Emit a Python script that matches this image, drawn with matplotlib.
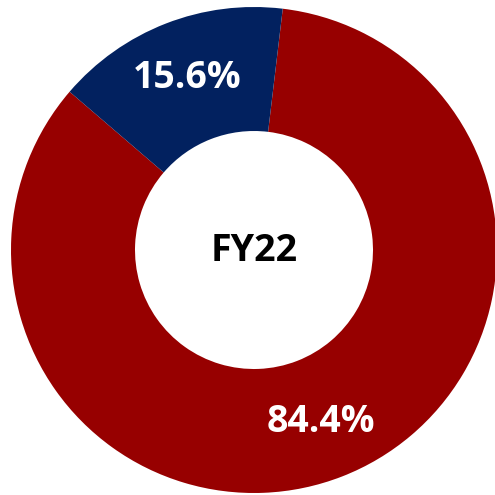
import matplotlib.pyplot as plt

# share of FY22 (red first, clockwise from near the top)
labels = ['Other', 'Segment']
values = [84.4, 15.6]
colors = ['#970000', '#02215F']
center_text = 'FY22'

fig = plt.figure(figsize=(4.95, 4.95), dpi=100)
ax = fig.add_axes([0, 0, 1, 1])

wedges, texts, autotexts = ax.pie(
    values, colors=colors, startangle=83.2, counterclock=False,
    center=(254, 245), radius=243, autopct='%.1f%%', pctdistance=0.76,
    wedgeprops=dict(width=124, edgecolor='none'),
    textprops=dict(color='white', fontsize=27, fontweight='bold', family='Open Sans'),
)

ax.text(254, 244, center_text, ha='center', va='center',
        fontsize=27, fontweight='bold', family='Open Sans', color='black')

# pie() resets the limits, so set them afterwards
ax.set_xlim(0, 495)
ax.set_ylim(0, 495)
ax.set_aspect('equal')
ax.axis('off')

fig.savefig('out.png', dpi=100)
